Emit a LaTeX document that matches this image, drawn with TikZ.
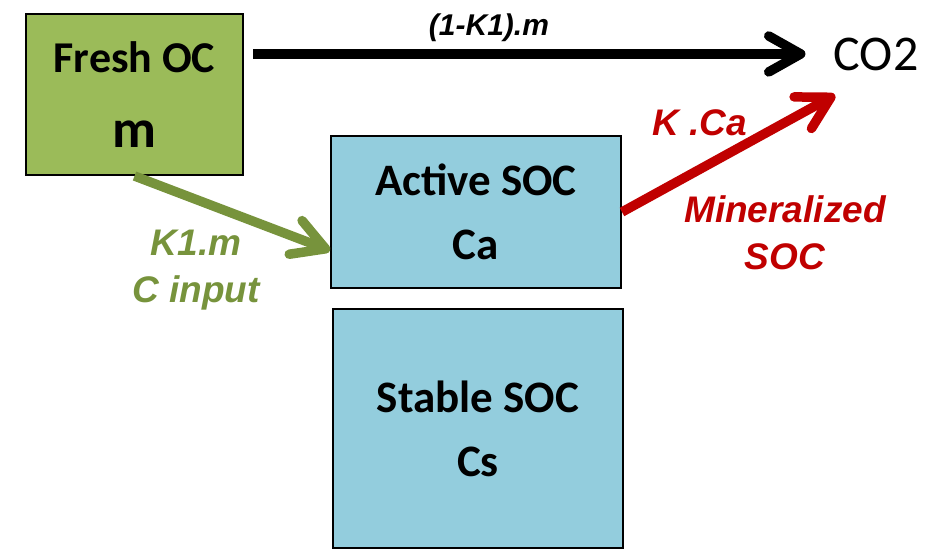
\documentclass[tikz,border=0pt]{standalone}
\usepackage{fontspec}
\setmainfont{Carlito}
\newfontfamily\arialfont{Liberation Sans}
\usetikzlibrary{arrows.meta,calc}
\definecolor{freshgreen}{HTML}{9BBB59}
\definecolor{socblue}{HTML}{93CDDD}
\definecolor{inputgreen}{HTML}{77933C}
\definecolor{mineralred}{HTML}{C00000}

\begin{document}
\begin{tikzpicture}[x=1pt,y=-1pt,
	pool/.style={rectangle, draw=black, line width=2pt, align=center, inner sep=0pt},
	flux/.style={line width=9.5pt, -{Straight Barb[round,length=32pt,width=36pt]}},
	rate/.style={font=\arialfont\bfseries\itshape\fontsize{37}{47}\selectfont, inner sep=0pt, align=center}]
	\useasboundingbox (0,0) rectangle (938,549);
	% carbon pools
	\node (fresh)  at (134.5,  94.5)	[pool, fill=freshgreen, minimum width=217pt, minimum height=161pt, font=\bfseries\fontsize{44}{75}\selectfont]	{Fresh OC\\{\fontsize{54}{75}\selectfont m}};
	\node (active) at (476,   212)	[pool, fill=socblue, minimum width=290pt, minimum height=152pt, font=\bfseries\fontsize{45}{64}\selectfont]	{Active SOC\\Ca};
	\node (stable) at (478,   428.5)	[pool, fill=socblue, minimum width=290pt, minimum height=239pt, font=\bfseries\fontsize{45}{64}\selectfont]	{Stable SOC\\Cs};
	\node (co2)    at (876,    70)	[anchor=base, inner sep=0pt, font=\fontsize{50}{54}\selectfont]	{CO2};
	\coordinate (mineral) at (835, 95);
	% fluxes
	\draw[flux] (fresh.east |- co2.west) -- (co2.west) [shorten <=9pt, shorten >=28pt];
	\draw[flux, inputgreen] (fresh.south) -- ($(active.south west)!0.25!(active.north west)$);
	\draw[flux, mineralred] (active.east) -- (mineral);
	% rates
	\node (outrate) at (489, 35)	[rate, anchor=base, font=\arialfont\bfseries\itshape\fontsize{30}{32}\selectfont]	{(1-K1).m};
	\node (inrate)  at (196, 270.5)	[rate, text=inputgreen]	{K1.m\\C input};
	\node (decay)   at (700, 135)	[rate, anchor=base, text=mineralred]	{K .Ca};
	\node (minsoc)  at (785, 233)	[rate, text=mineralred]	{Mineralized\\SOC};
\end{tikzpicture}
\end{document}
